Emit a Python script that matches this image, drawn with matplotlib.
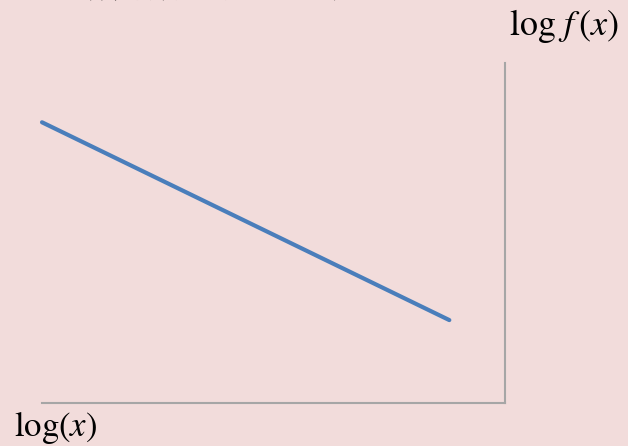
import matplotlib
matplotlib.use("Agg")
from matplotlib import pyplot as plt

plt.rcParams['mathtext.fontset'] = 'stix'

# power law on log-log axes: a straight falling line
log_x = [0.0, 8.8]
log_fx = [8.26, 2.44]

bg = '#F2DCDB'
fig = plt.figure(figsize=(6.28, 4.46), dpi=100, facecolor=bg)
ax = fig.add_axes([0.0669, 0.0964, 0.737, 0.762])
ax.set_facecolor(bg)

ax.plot(log_x, log_fx, color='#4A7EBB', lw=3.0, solid_capstyle='round', clip_on=False)

ax.set_xlim(0, 10)
ax.set_ylim(0, 10)
for s in ['left', 'top']:
    ax.spines[s].set_visible(False)
for s in ['bottom', 'right']:
    ax.spines[s].set_color('#A6A6A6')
    ax.spines[s].set_linewidth(1.5)
ax.set_xticks([])
ax.set_yticks([])

fig.text(0.985, 0.985, r'$\log\, f\,(x)$', ha='right', va='top', fontsize=26)
fig.text(0.022, 0.0, r'$\mathrm{log}(x)$', ha='left', va='bottom', fontsize=25)

# title sits mostly above the top edge
fig.text(0.14, 1.0 - 4.2 / 446, '双对数坐标下幂律分布为直线', ha='left', va='bottom',
         fontsize=22, family=['Noto Sans CJK SC', 'DejaVu Sans'])

fig.savefig('out.png', dpi=100, facecolor=bg)
